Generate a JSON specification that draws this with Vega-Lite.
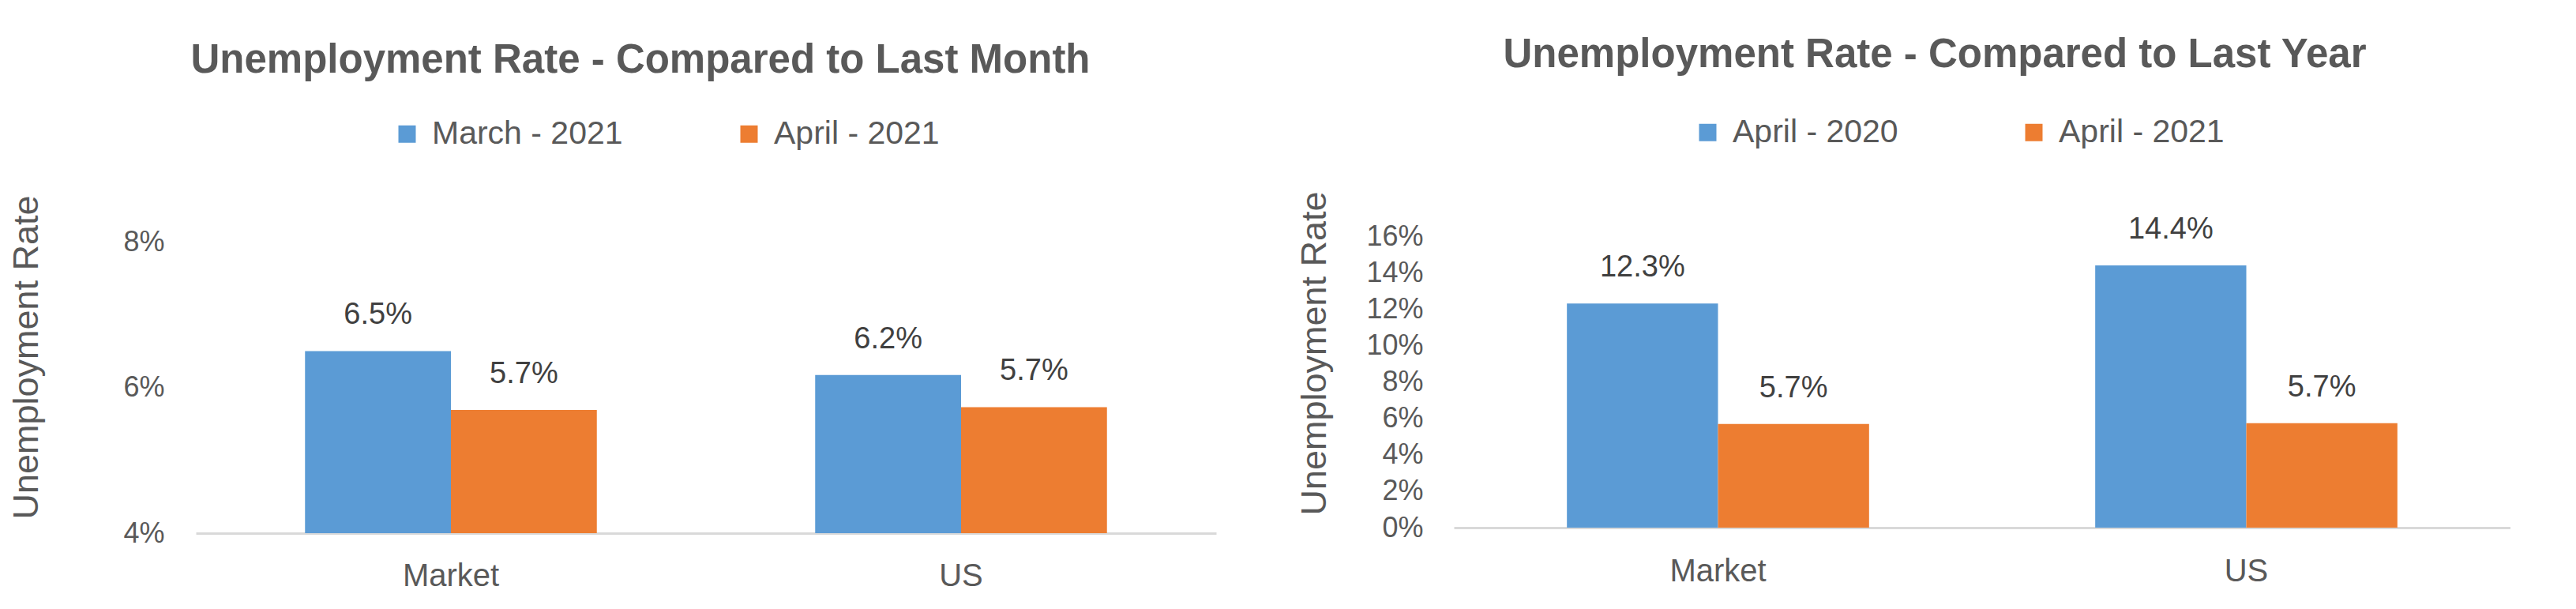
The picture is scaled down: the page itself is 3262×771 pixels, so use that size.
{
  "$schema": "https://vega.github.io/schema/vega-lite/v6.json",
  "autosize": {"type": "pad"},
  "padding": {"left": 11, "top": 44, "right": 0, "bottom": 0},
  "background": "white",
  "spacing": 301,
  "bounds": "flush",
  "config": {
    "font": "Liberation Sans",
    "view": {"stroke": null},
    "axis": {"labelColor": "#595959", "titleColor": "#595959", "labelFont": "Liberation Sans", "titleFont": "Liberation Sans", "titleFontWeight": "normal", "grid": false, "ticks": false, "tickSize": 0},
    "title": {"font": "Liberation Sans", "fontSize": 51, "fontWeight": "bold", "color": "#595959", "anchor": "middle", "frame": "group"},
    "legend": {"symbolType": "square", "symbolSize": 484, "symbolStrokeWidth": 0, "labelFontSize": 41, "labelColor": "#595959", "labelFont": "Liberation Sans", "labelOffset": 11, "padding": 0, "labelLimit": 0}
  },
  "datasets": {
    "month": [
      {"area": "Market", "period": "March - 2021", "rate": 0.065},
      {"area": "Market", "period": "April - 2021", "rate": 0.0569},
      {"area": "US", "period": "March - 2021", "rate": 0.0617},
      {"area": "US", "period": "April - 2021", "rate": 0.0573}
    ],
    "year": [
      {"area": "Market", "period": "April - 2020", "rate": 0.123},
      {"area": "Market", "period": "April - 2021", "rate": 0.0569},
      {"area": "US", "period": "April - 2020", "rate": 0.144},
      {"area": "US", "period": "April - 2021", "rate": 0.0573}
    ]
  },
  "hconcat": [
    {
      "data": {"name": "month"},
      "width": 1292,
      "height": 376,
      "title": {"text": "Unemployment Rate - Compared to Last Month", "dx": -83, "offset": 46},
      "encoding": {
        "x": {"field": "area", "type": "nominal", "scale": {"paddingInner": 0.428, "paddingOuter": 0.214}, "axis": {"title": null, "labelAngle": 0, "labelFontSize": 40, "labelPadding": 54, "labelBaseline": "middle", "domainColor": "#D9D9D9", "domainWidth": 3}},
        "xOffset": {"field": "period", "type": "nominal", "sort": ["March - 2021", "April - 2021"], "scale": {"paddingInner": 0, "paddingOuter": 0}},
        "y": {"field": "rate", "type": "quantitative", "scale": {"domain": [0.04, 0.08076], "zero": false, "nice": false}, "axis": {"title": "Unemployment Rate", "values": [0.04, 0.06, 0.08], "format": ".0%", "labelFontSize": 36, "labelPadding": 40, "domain": false, "titleFontSize": 45, "titleX": -215, "titleY": 153, "titleAngle": 270, "titleAlign": "center", "titleBaseline": "middle"}}
      },
      "layer": [
        {
          "mark": {"type": "bar", "clip": true},
          "encoding": {
            "color": {"field": "period", "type": "nominal", "scale": {"domain": ["March - 2021", "April - 2021"], "range": ["#5B9BD5", "#ED7D31"]}, "legend": {"title": null, "orient": "none", "legendX": 247, "legendY": -150, "direction": "horizontal", "columnPadding": 139}}
          }
        },
        {
          "mark": {"type": "text", "baseline": "middle", "dy": -45, "fontSize": 38, "color": "#404040"},
          "encoding": {"text": {"field": "rate", "format": ".1%"}}
        }
      ]
    },
    {
      "data": {"name": "year"},
      "width": 1338,
      "height": 369,
      "title": {"text": "Unemployment Rate - Compared to Last Year", "dx": -60, "offset": 51},
      "encoding": {
        "x": {"field": "area", "type": "nominal", "scale": {"paddingInner": 0.428, "paddingOuter": 0.214}, "axis": {"title": null, "labelAngle": 0, "labelFontSize": 40, "labelPadding": 55, "labelBaseline": "middle", "domainColor": "#D9D9D9", "domainWidth": 3}},
        "xOffset": {"field": "period", "type": "nominal", "sort": ["April - 2020", "April - 2021"], "scale": {"paddingInner": 0, "paddingOuter": 0}},
        "y": {"field": "rate", "type": "quantitative", "scale": {"domain": [0, 0.16], "nice": false}, "axis": {"title": "Unemployment Rate", "values": [0, 0.02, 0.04, 0.06, 0.08, 0.1, 0.12, 0.14, 0.16], "format": ".0%", "labelFontSize": 36, "labelPadding": 39, "domain": false, "titleFontSize": 45, "titleX": -177, "titleY": 148, "titleAngle": 270, "titleAlign": "center", "titleBaseline": "middle"}}
      },
      "layer": [
        {
          "mark": {"type": "bar"},
          "encoding": {
            "color": {"field": "period", "type": "nominal", "scale": {"domain": ["April - 2020", "April - 2021"], "range": ["#5B9BD5", "#ED7D31"]}, "legend": {"title": null, "orient": "none", "legendX": 301, "legendY": -152, "direction": "horizontal", "columnPadding": 151}}
          }
        },
        {
          "mark": {"type": "text", "baseline": "middle", "dy": -45, "fontSize": 38, "color": "#404040"},
          "encoding": {"text": {"field": "rate", "format": ".1%"}}
        }
      ]
    }
  ],
  "resolve": {"scale": {"x": "independent", "y": "independent", "color": "independent", "xOffset": "independent"}, "legend": {"color": "independent"}}
}
